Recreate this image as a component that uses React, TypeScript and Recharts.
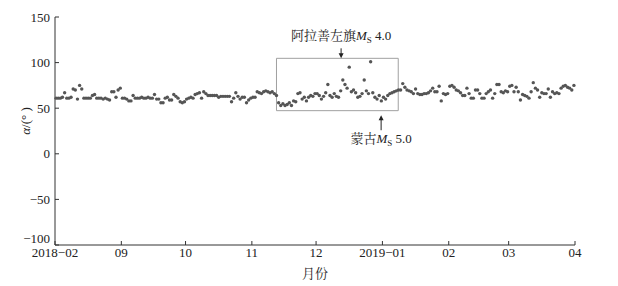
import React from 'react';
import { ScatterChart, Scatter, XAxis, YAxis, ReferenceArea, ReferenceDot } from 'recharts';

// x axis: day index from the first month, ticks at month starts
const monthLabels = ['2018-02', '09', '10', '11', '12', '2019-01', '02', '03', '04'];
const monthStarts = [0, 31, 61, 92, 122, 153, 184, 212, 243];
const yTicks = [-100, -50, 0, 50, 100, 150];

// daily alpha values (deg), one array per month
const aug = [61, 61, 61, 62, 67, 61, 61, 62, 71, 70, 60, 75, 71, 61, 61, 61, 61, 64, 65, 61, 61, 61, 60, 61, 60, 59, 68, 68, 62, 70, 72];
const sep = [61, 61, 60, 58, 58, 64, 61, 61, 61, 62, 61, 61, 62, 61, 61, 65, 60, 60, 56, 56, 61, 62, 59, 59, 65, 63, 61, 57, 56, 57];
const oct = [60, 61, 62, 61, 65, 66, 67, 61, 68, 66, 64, 64, 64, 64, 64, 62, 63, 63, 63, 63, 63, 57, 61, 67, 63, 60, 62, 62, 56, 59, 61];
const nov = [62, 62, 68, 67, 66, 68, 69, 68, 67, 68, 66, 64, 56, 53, 55, 53, 54, 56, 53, 58, 57, 66, 67, 60, 62, 58, 62, 64, 63, 66];
const dec = [66, 64, 60, 63, 67, 76, 64, 62, 66, 63, 62, 69, 81, 76, 72, 95, 68, 70, 67, 62, 63, 66, 81, 69, 66, 101, 67, 62, 60, 64, 58];
const jan = [62, 60, 64, 66, 67, 68, 69, 70, 70, 77, 73, 70, 69, 68, 66, 71, 66, 65, 65, 66, 66, 67, 69, 72, 68, 68, 74, 58, 66, 65, 66];
const feb = [74, 75, 73, 70, 69, 67, 64, 64, 72, 66, 61, 61, 70, 70, 66, 61, 61, 66, 68, 70, 61, 66, 76, 76, 68, 67, 69, 68];
const mar = [74, 75, 68, 73, 68, 59, 65, 64, 63, 61, 68, 78, 72, 70, 62, 67, 66, 66, 71, 62, 68, 66, 67, 66, 72, 74, 75, 73, 72, 70, 75];

const monthValues = [aug, sep, oct, nov, dec, jan, feb, mar];

// highlighted window and the two earthquakes
const boxDays = [103.5, 160.4];
const boxAlpha = [47.3, 104.7];
const alxaDay = 133.7;
const mongoliaDay = 152.4;

const points = monthValues.flatMap((vals, m) =>
  vals.map((v, d) => ({ day: monthStarts[m] + d + 0.5, alpha: v }))
);

const FONT = '"Liberation Serif", "Noto Serif CJK SC", "Noto Sans CJK SC", serif';
const AXIS = '#333';
const INK = '#222';

const fmtX = (v: number) => monthLabels[monthStarts.indexOf(v)].replace('-', '\u2212');

const Dot = (props: any) => <circle cx={props.cx} cy={props.cy} r={1.7} fill="#555" />;

// y tick labels; the lowest one is lifted so it clears the x labels
const YTick = (props: any) => {
  const { x, y, payload } = props;
  const lift = payload.value === yTicks[0] ? -7 : 0;
  return (
    <text x={x} y={y + lift} textAnchor="end" dominantBaseline="central" fontFamily={FONT} fontSize={13} fill={INK}>
      {String(payload.value).replace('-', '\u2212')}
    </text>
  );
};

const YLabel = (props: any) => {
  const vb = props.viewBox;
  const cx = vb.x + 25;
  const cy = vb.y + vb.height / 2 - 10;
  return (
    <text x={cx} y={cy} transform={`rotate(-90 ${cx} ${cy})`} textAnchor="middle" dominantBaseline="central"
      fontFamily={FONT} fontSize={13} fill={INK}>
      <tspan fontStyle="italic">α</tspan>/(° )
    </text>
  );
};

// arrow pointing down onto the box, label above
const AlxaMark = (props: any) => {
  const { cx, cy } = props;
  return (
    <g>
      <line x1={cx} y1={cy - 10} x2={cx} y2={cy - 3} stroke={INK} strokeWidth={1} />
      <path d={`M${cx - 2.5},${cy - 5} L${cx + 2.5},${cy - 5} L${cx},${cy} Z`} fill={INK} />
      <text x={cx} y={cy - 18} textAnchor="middle" fontFamily={FONT} fontSize={13} fill={INK}>
        阿拉善左旗<tspan fontStyle="italic">M</tspan><tspan fontSize={9} dy={3}>S</tspan><tspan dy={-3}> 4.0</tspan>
      </text>
    </g>
  );
};

// arrow pointing up from below the box, label below
const MongoliaMark = (props: any) => {
  const { cx, cy } = props;
  return (
    <g>
      <line x1={cx} y1={cy + 15} x2={cx} y2={cy + 3} stroke={INK} strokeWidth={1} />
      <path d={`M${cx - 2.5},${cy + 5} L${cx + 2.5},${cy + 5} L${cx},${cy} Z`} fill={INK} />
      <text x={cx} y={cy + 28} textAnchor="middle" fontFamily={FONT} fontSize={13} fill={INK}>
        蒙古<tspan fontStyle="italic">M</tspan><tspan fontSize={9} dy={3}>S</tspan><tspan dy={-3}> 5.0</tspan>
      </text>
    </g>
  );
};

export default function App() {
  return (
    <div style={{ position: 'absolute', left: 0, top: 0, background: '#fff' }}>
      <ScatterChart width={618} height={286} margin={{ top: 17, right: 43, bottom: 0, left: 0 }}>
        <XAxis
          type="number"
          dataKey="day"
          domain={[0, 243]}
          ticks={monthStarts}
          tickFormatter={fmtX}
          interval={0}
          height={41}
          tickSize={-4}
          tickMargin={7}
          stroke={AXIS}
          tick={{ fill: INK, fontSize: 13, fontFamily: FONT }}
          label={{ value: '月份', position: 'insideBottom', offset: 8, fill: INK, fontSize: 13, fontFamily: FONT }}
        />
        <YAxis
          type="number"
          dataKey="alpha"
          domain={[-100, 150]}
          ticks={yTicks}
          interval={0}
          width={55}
          tickSize={-4}
          tickMargin={9}
          stroke={AXIS}
          tick={<YTick />}
          label={<YLabel />}
        />
        <ReferenceArea x1={boxDays[0]} x2={boxDays[1]} y1={boxAlpha[0]} y2={boxAlpha[1]}
          fill="none" stroke="#a0a0a0" strokeWidth={1} />
        <Scatter data={points} shape={<Dot />} isAnimationActive={false} />
        <ReferenceDot x={alxaDay} y={boxAlpha[1]} shape={<AlxaMark />} ifOverflow="visible" />
        <ReferenceDot x={mongoliaDay} y={boxAlpha[0] - 5} shape={<MongoliaMark />} ifOverflow="visible" />
      </ScatterChart>
    </div>
  );
}
